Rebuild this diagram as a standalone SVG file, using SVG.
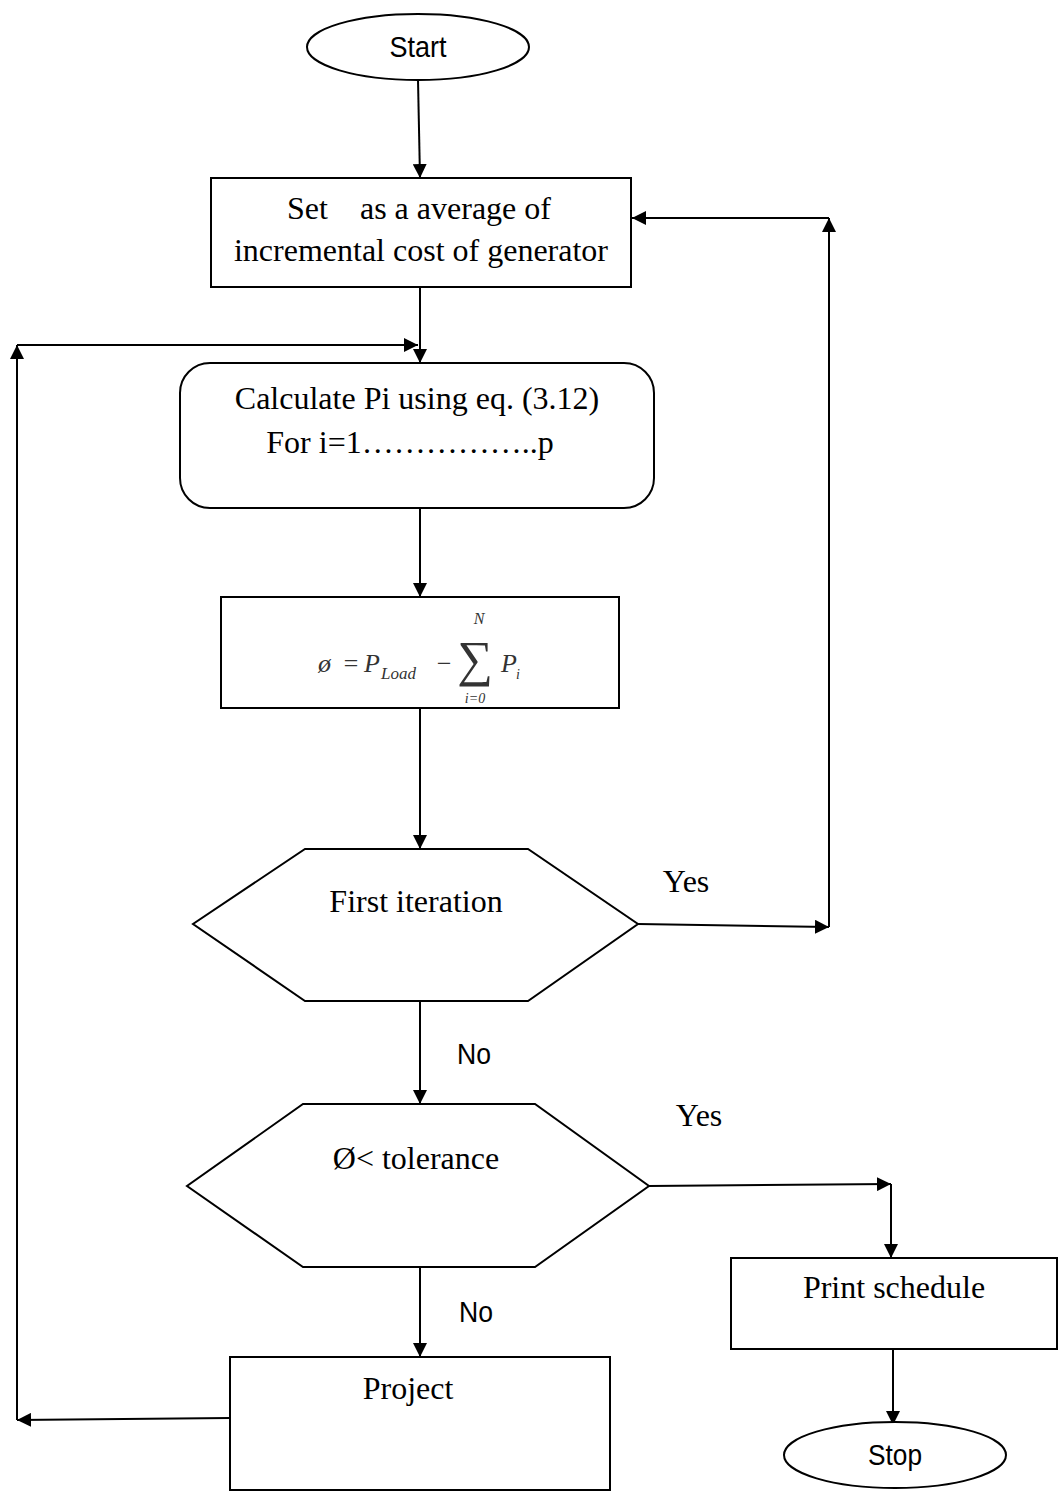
<svg xmlns="http://www.w3.org/2000/svg" width="1059" height="1495" viewBox="0 0 1059 1495">
<style>
.s{fill:#fff;stroke:#000;stroke-width:2}
.c{fill:none;stroke:#000;stroke-width:2}
.t{font-family:"Liberation Serif","Times New Roman",serif;font-size:32px;fill:#000;text-anchor:middle}
.n{font-family:"Liberation Sans Narrow","Liberation Sans",sans-serif;font-size:29px;fill:#000;text-anchor:middle}
.m{font-family:"Liberation Serif",serif;fill:#333;font-style:italic}
</style>
<defs>
<marker id="b" viewBox="0 0 10 10" refX="10" refY="5" markerWidth="14" markerHeight="14" markerUnits="userSpaceOnUse" orient="auto">
<path d="M0,0 L10,5 L0,10 Z" fill="#000"/>
</marker>
</defs>
<g id="connectors">
<line class="c" x1="418" y1="80" x2="420" y2="178" marker-end="url(#b)"/>
<line class="c" x1="420" y1="288" x2="420" y2="363" marker-end="url(#b)"/>
<line class="c" x1="420" y1="508" x2="420" y2="597" marker-end="url(#b)"/>
<line class="c" x1="420" y1="708" x2="420" y2="849" marker-end="url(#b)"/>
<line class="c" x1="420" y1="1001" x2="420" y2="1104" marker-end="url(#b)"/>
<line class="c" x1="420" y1="1267" x2="420" y2="1357" marker-end="url(#b)"/>
<line class="c" x1="638" y1="924" x2="829" y2="927" marker-end="url(#b)"/>
<line class="c" x1="829" y1="927" x2="829" y2="218" marker-end="url(#b)"/>
<line class="c" x1="829" y1="218" x2="632" y2="218" marker-end="url(#b)"/>
<line class="c" x1="649" y1="1186" x2="891" y2="1184" marker-end="url(#b)"/>
<line class="c" x1="891" y1="1184" x2="891" y2="1258" marker-end="url(#b)"/>
<line class="c" x1="893" y1="1349" x2="893" y2="1425" marker-end="url(#b)"/>
<line class="c" x1="230" y1="1418" x2="17" y2="1420" marker-end="url(#b)"/>
<line class="c" x1="17" y1="1420" x2="17" y2="345" marker-end="url(#b)"/>
<line class="c" x1="17" y1="345" x2="418" y2="345" marker-end="url(#b)"/>
</g>
<g id="start">
<ellipse class="s" cx="418" cy="47" rx="111" ry="33"/>
<text class="n" x="418" y="57" textLength="57" lengthAdjust="spacingAndGlyphs">Start</text>
</g>
<g id="set">
<rect class="s" x="211" y="178" width="420" height="109"/>
<text class="t" x="419" y="219" xml:space="preserve">Set    as a average of</text>
<text class="t" x="421" y="261">incremental cost of generator</text>
</g>
<g id="calc">
<rect class="s" x="180" y="363" width="474" height="145" rx="30"/>
<text class="t" x="417" y="409">Calculate Pi using eq. (3.12)</text>
<text class="t" x="410" y="453">For i=1……………..p</text>
</g>
<g id="formula">
<rect class="s" x="221" y="597" width="398" height="111"/>
<text class="m" x="318" y="672" font-size="26" font-style="normal">ø</text>
<text class="m" x="342" y="672" font-size="26" font-style="normal">=</text>
<text class="m" x="364" y="672" font-size="26">P</text>
<text class="m" x="381" y="679" font-size="17">Load</text>
<text class="m" x="435" y="672" font-size="26" font-style="normal">−</text>
<text class="m" x="475" y="676" font-size="50" font-style="normal" text-anchor="middle">∑</text>
<text class="m" x="479" y="624" font-size="16" text-anchor="middle">N</text>
<text class="m" x="475" y="703" font-size="14" text-anchor="middle">i=0</text>
<text class="m" x="501" y="672" font-size="26">P</text>
<text class="m" x="516" y="679" font-size="14">i</text>
</g>
<g id="first">
<polygon class="s" points="305,849 528,849 638,924 528,1001 305,1001 193,924"/>
<text class="t" x="416" y="912">First iteration</text>
</g>
<text class="t" x="686" y="892">Yes</text>
<text class="n" x="474" y="1064" textLength="34" lengthAdjust="spacingAndGlyphs">No</text>
<g id="tol">
<polygon class="s" points="303,1104 535,1104 649,1186 535,1267 303,1267 187,1186"/>
<text class="t" x="416" y="1169">Ø&lt; tolerance</text>
</g>
<text class="t" x="699" y="1126">Yes</text>
<text class="n" x="476" y="1322" textLength="34" lengthAdjust="spacingAndGlyphs">No</text>
<g id="print">
<rect class="s" x="731" y="1258" width="326" height="91"/>
<text class="t" x="894" y="1298">Print schedule</text>
</g>
<g id="stop">
<ellipse class="s" cx="895" cy="1455" rx="111" ry="33"/>
<text class="n" x="895" y="1465" textLength="54" lengthAdjust="spacingAndGlyphs">Stop</text>
</g>
<g id="project">
<rect class="s" x="230" y="1357" width="380" height="133"/>
<text class="t" x="408" y="1399">Project</text>
</g>
</svg>
